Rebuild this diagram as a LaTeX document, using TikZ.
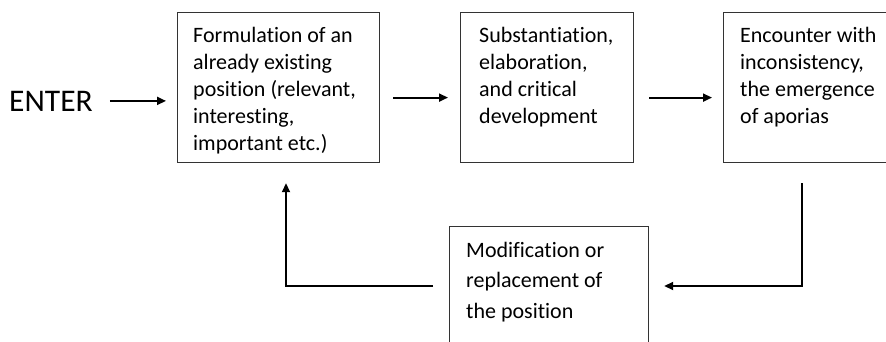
\documentclass[tikz,border=0pt]{standalone}
\usepackage{fontspec}
\setmainfont{Carlito}[Ligatures={NoCommon}]
\usetikzlibrary{arrows.meta}
\tikzset{
  box/.style={draw=black!80, line width=1.2pt, inner sep=0pt, anchor=north west},
  boxtext/.style={inner sep=0pt, anchor=base west, font=\fontsize{22}{27}\selectfont},
  arr/.style={draw=black, line width=1.8pt, -{Triangle[length=9pt,width=8pt]}}
}
\newcommand{\linesbox}[2]{\parbox[t]{#1}{\raggedright #2}}
\begin{document}
\begin{tikzpicture}[x=1pt,y=-1pt]
\useasboundingbox (0,0) rectangle (886,341);
\clip (0,0) rectangle (886,341);
\fill[white] (0,0) rectangle (886,341);
% boxes
\node[box, minimum width=202pt, minimum height=150pt] (b1) at (177,12) {};
\node[box, minimum width=173pt, minimum height=150pt] (b2) at (460,12) {};
\node[box, minimum width=190pt, minimum height=150pt] (b3) at (723,12) {};
\node[box, minimum width=199pt, minimum height=140pt] (b4) at (449,226) {};
% texts
\node[boxtext] (t1) at ([xshift=16pt,yshift=-30pt]b1.north west)
  {\linesbox{190pt}{Formulation of an\\already existing\\position (relevant,\\interesting,\\important etc.)}};
\node[boxtext] (t2) at ([xshift=19pt,yshift=-30pt]b2.north west)
  {\linesbox{160pt}{Substantiation,\\elaboration,\\and critical\\development}};
\node[boxtext] (t3) at ([xshift=17pt,yshift=-30pt]b3.north west)
  {\linesbox{170pt}{Encounter with\\inconsistency,\\the emergence\\of aporias}};
\node[boxtext, font=\fontsize{22}{30.5}\selectfont] (t4) at ([xshift=17pt,yshift=-31pt]b4.north west)
  {\linesbox{180pt}{Modification or\\replacement of\\the position}};
% ENTER
\node[inner sep=0pt, anchor=base west, font=\fontsize{31.5}{36}\selectfont] (enter) at (9,111) {ENTER};
% arrows
\draw[arr, shorten <=17pt, shorten >=11pt] (enter.east) -- (enter.east -| b1.west);
\draw[arr, shorten <=13pt, shorten >=12pt] ([yshift=-10pt]b1.east) -- ([yshift=-10pt]b2.west);
\draw[arr, shorten <=15pt, shorten >=11pt] ([yshift=-10pt]b2.east) -- ([yshift=-10pt]b3.west);
\draw[arr] ([xshift=79pt,yshift=-20pt]b3.south west) |- ([xshift=15pt,yshift=-60pt]b4.north east);
\draw[arr] ([xshift=-16pt,yshift=-60pt]b4.north west) -| ([xshift=109pt,yshift=-20pt]b1.south west);
\end{tikzpicture}
\end{document}
